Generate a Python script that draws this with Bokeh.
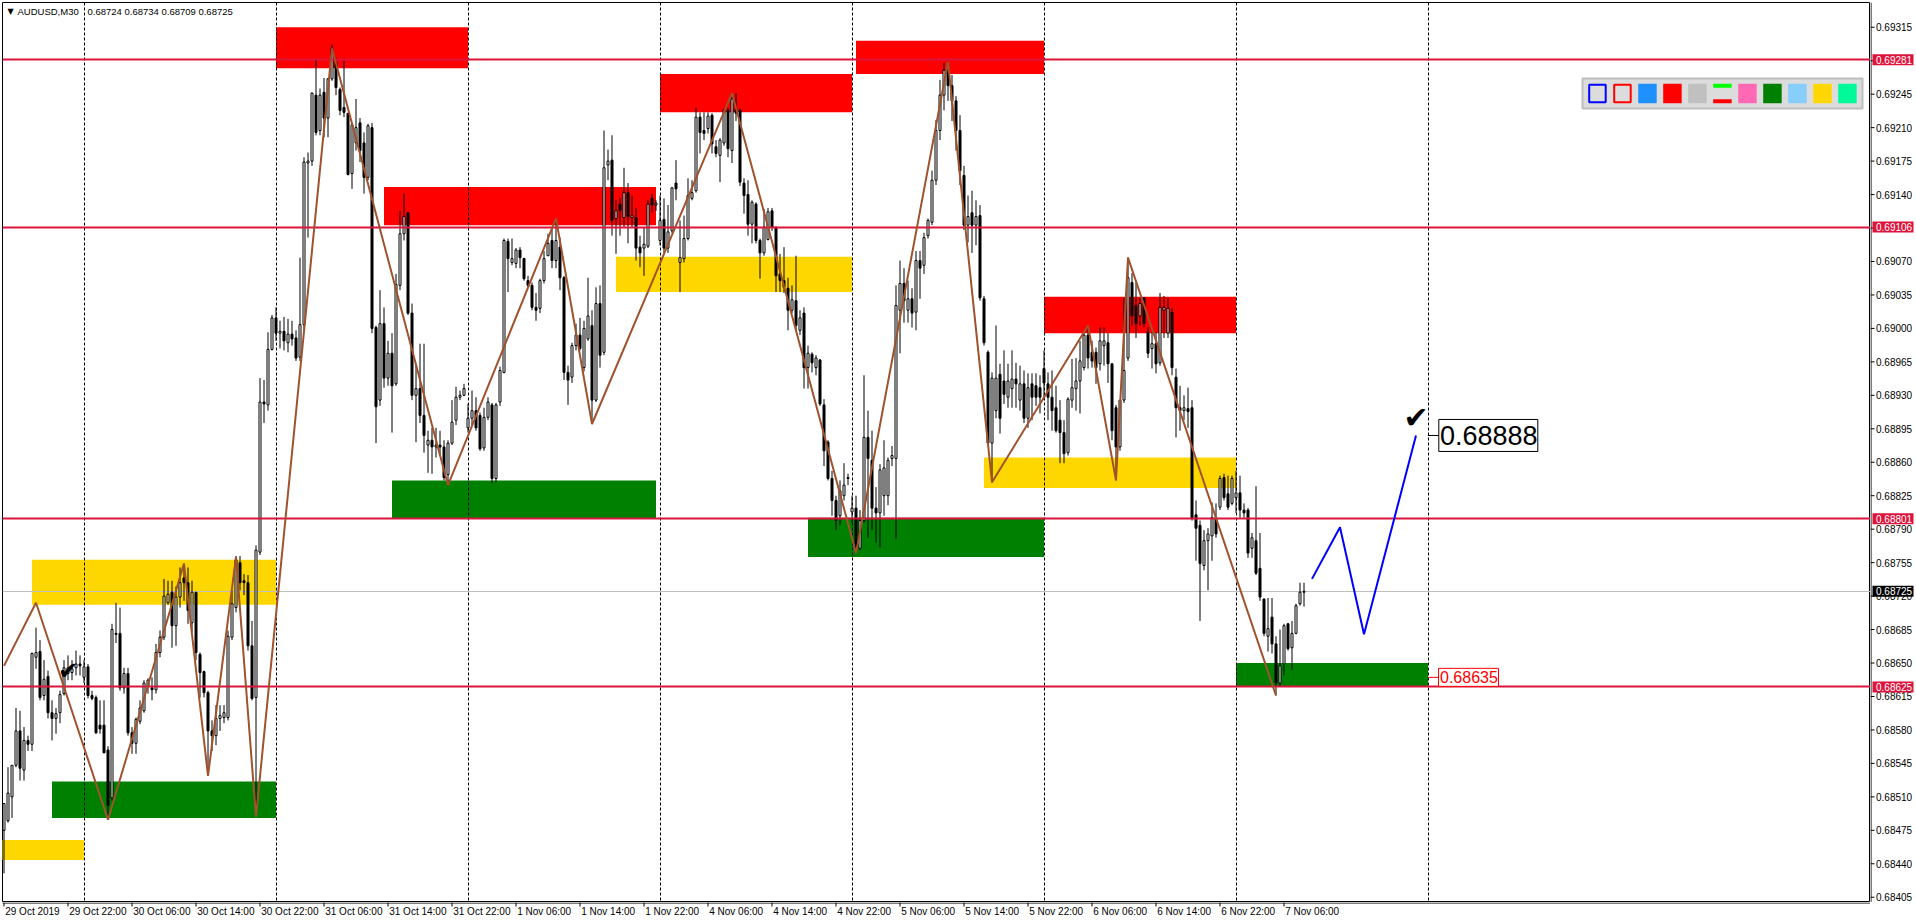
from bokeh.plotting import figure
from bokeh.models import Range1d, Label, ColumnDataSource, Spacer
from bokeh.layouts import row, column
from bokeh.core.properties import value
from bokeh.embed import file_html
from bokeh.resources import INLINE

# ---------------- data (AUDUSD M30, quotes in 1e-5 units) ----------------
symbol = "AUDUSD,M30"
last_ohlc = "0.68724 0.68734 0.68709 0.68725"

opens = [
68475,68485,68510,68543,68579,68538,68569,68565,68656,68662,
68616,68636,68598,68592,68598,68618,68639,68640,68645,68649,
68635,68646,68616,68614,68585,68585,68559,68509,68681,68681,
68624,68639,68577,68566,68589,68600,68626,68624,68622,68661,
68677,68713,68724,68689,68719,68739,68734,68692,68724,68659,
68641,68619,68579,68574,68592,68593,68593,68677,68708,68755,
68736,68734,68668,68614,68766,68923,68920,68978,69011,68995,
68997,68985,68994,68990,68970,69004,69173,69175,69244,69207,
69247,69220,69261,69278,69250,69231,69225,69162,69194,69215,
69194,69158,69210,69001,68925,69005,68948,68974,68942,69045,
69099,69121,69016,68930,68937,68909,68878,68883,68876,68878,
68876,68847,68880,68904,68928,68930,68896,68906,68914,68909,
68875,68907,68920,68843,68923,68954,69091,69069,69068,69082,
69073,69050,69045,69022,69021,69050,69076,69092,69071,69085,
69053,68954,68949,68982,68993,68959,68989,69003,68925,69026,
68975,69171,69176,69115,69130,69116,69142,69116,69116,69085,
69084,69086,69136,69129,69092,69114,69084,69102,69152,69069,
69073,69094,69136,69144,69221,69207,69209,69223,69190,69181,
69194,69228,69186,69230,69228,69152,69140,69109,69130,69092,
69079,69093,69123,69106,69057,69050,69042,69019,69029,68998,
69016,68959,68973,68959,68967,68920,68881,68843,68820,68804,
68825,68843,68808,68812,68770,68799,68886,68862,68812,68807,
68825,68825,68864,68864,69019,69047,69019,69031,69017,69071,
69066,69097,69111,69155,69207,69244,69268,69254,69238,69207,
69160,69108,69121,69108,69118,69031,68975,68880,68914,68952,
68945,68928,68937,68947,68925,68942,68906,68942,68940,68938,
68958,68942,68928,68917,68904,68891,68870,68925,68937,68945,
68959,68993,68975,68975,68963,68982,68985,68963,68917,68876,
68925,68969,69048,69024,69013,69032,68996,68979,68984,68964,
69019,68995,69017,68949,68917,68914,68916,68917,68805,68794,
68752,68778,68783,68802,68813,68844,68827,68817,68823,68828,
68810,68810,68770,68778,68749,68717,68678,68698,68670,68629,
68649,68691,68666,68681,68712,68724]

highs = [
68503,68541,68543,68603,68600,68583,68574,68661,68687,68674,
68653,68642,68611,68603,68621,68653,68658,68653,68663,68658,
68653,68649,68621,68616,68611,68611,68563,68691,68713,68708,
68645,68645,68583,68593,68611,68632,68634,68635,68670,68684,
68738,68736,68736,68730,68750,68754,68750,68736,68724,68661,
68642,68621,68590,68606,68606,68606,68684,68726,68762,68762,
68743,68742,68694,68773,68948,68946,68996,69014,69022,69008,
69012,69010,69008,68998,69074,69179,69184,69247,69282,69251,
69262,69262,69297,69283,69252,69280,69225,69215,69240,69220,
69205,69214,69215,69003,69040,69022,68987,68995,69057,69123,
69141,69121,69026,68963,68984,68984,68893,68896,68896,68893,
68883,68883,68925,68939,68935,68942,68921,68935,68928,68912,
68917,68928,68922,68922,68960,69094,69094,69094,69084,69085,
69074,69055,69048,69037,69052,69081,69099,69105,69115,69095,
69055,68961,68985,69005,69011,69008,69053,69019,69043,69045,
69207,69187,69202,69134,69137,69168,69152,69139,69126,69097,
69106,69134,69141,69134,69139,69136,69129,69148,69176,69113,
69118,69157,69155,69231,69226,69226,69226,69225,69197,69199,
69230,69231,69246,69246,69230,69157,69155,69134,69132,69094,
69125,69126,69126,69106,69078,69085,69053,69045,69076,69019,
69022,68982,68975,68972,68968,68926,68883,68851,68825,68841,
68859,68848,68825,68825,68810,68951,68914,68893,68834,68858,
68883,68865,68877,69045,69071,69063,69050,69042,69081,69081,
69100,69115,69165,69218,69260,69278,69279,69265,69243,69223,
69170,69139,69144,69134,69129,69034,68977,68954,69003,68963,
68977,68963,68977,68964,68961,68956,68953,68953,68953,68951,
68977,68954,68956,68940,68925,68904,68928,68968,68969,68987,
68995,69003,68987,68980,69001,69001,68995,68963,68920,68925,
69032,69074,69058,69048,69032,69032,69001,68996,68996,69037,
69034,69032,69022,68958,68940,68930,68938,68925,68820,68799,
68789,68791,68818,68817,68846,68848,68846,68846,68851,68846,
68817,68812,68786,68835,68786,68717,68718,68718,68678,68685,
68691,68692,68694,68712,68734,68734]

lows = [
68430,68483,68488,68541,68527,68527,68558,68558,68644,68611,
68611,68592,68569,68576,68587,68616,68632,68632,68637,68637,
68629,68613,68611,68576,68576,68556,68488,68506,68671,68621,
68618,68574,68555,68555,68586,68598,68618,68611,68618,68656,
68674,68711,68666,68668,68708,68715,68691,68682,68653,68614,
68614,68533,68558,68564,68579,68587,68590,68674,68703,68726,
68721,68663,68611,68489,68763,68901,68914,68977,68987,68979,
68977,68975,68982,68966,68966,68998,69095,69170,69202,69202,
69200,69200,69259,69244,69223,69221,69160,69146,69186,69174,
69141,69155,68995,68880,68919,68938,68940,68891,68940,69040,
69092,69014,68925,68881,68901,68870,68849,68848,68865,68867,
68841,68836,68878,68899,68925,68930,68891,68899,68893,68872,
68872,68904,68838,68839,68919,68953,69038,69066,69063,69063,
69050,69042,69019,69008,69016,69047,69076,69063,69063,69040,
68946,68920,68943,68977,68977,68955,68987,68901,68923,68959,
68972,69155,69097,69078,69097,69105,69089,69105,69071,69064,
69055,69084,69121,69123,69087,69079,69079,69100,69134,69038,
69069,69092,69134,69142,69183,69197,69204,69183,69179,69153,
69191,69179,69173,69217,69149,69120,69097,69089,69089,69052,
69076,69092,69102,69038,69038,69037,68998,69016,68998,68993,
68937,68937,68954,68951,68919,68856,68841,68804,68789,68794,
68820,68836,68797,68765,68768,68797,68781,68789,68776,68771,
68804,68815,68856,68780,68974,69006,69006,69001,68998,69031,
69057,69094,69108,69150,69197,69228,69238,69217,69186,69150,
69103,69090,69079,69087,69029,68982,68878,68839,68906,68890,
68921,68917,68917,68917,68914,68901,68896,68904,68919,68911,
68925,68904,68893,68891,68859,68859,68867,68917,68914,68911,
68956,68958,68959,68942,68956,68961,68943,68883,68841,68872,
68922,68966,69003,68990,69003,69001,68969,68958,68953,68961,
68990,68990,68951,68886,68893,68904,68896,68799,68757,68694,
68747,68726,68757,68781,68810,68820,68810,68815,68807,68802,
68802,68760,68760,68742,68715,68678,68662,68660,68616,68626,
68637,68663,68643,68680,68710,68709]

closes = [
68503,68514,68543,68579,68540,68569,68565,68660,68661,68614,
68633,68598,68592,68597,68617,68645,68645,68644,68649,68647,
68646,68616,68613,68577,68581,68556,68501,68685,68680,68624,
68639,68577,68566,68591,68603,68629,68632,68622,68661,68677,
68720,68722,68689,68719,68734,68734,68705,68724,68661,68640,
68619,68579,68574,68592,68595,68598,68678,68712,68758,68734,
68734,68668,68613,68768,68923,68921,68978,69011,68995,68997,
68987,68994,68989,68969,69004,69174,69175,69246,69205,69244,
69220,69261,69293,69252,69228,69226,69161,69213,69210,69186,
69158,69212,69000,68918,69005,68948,68974,68940,69046,69099,
69117,69016,68930,68937,68909,68888,68883,68876,68878,68876,
68844,68880,68902,68928,68930,68937,68906,68914,68896,68874,
68907,68923,68843,68920,68956,69092,69073,69073,69082,69074,
69052,69045,69022,69019,69050,69073,69089,69071,69092,69053,
68954,68946,68982,68993,68979,69000,69013,68925,69026,68972,
69168,69175,69113,69123,69123,69142,69117,69118,69084,69079,
69088,69130,69129,69131,69113,69084,69101,69147,69146,69074,
69094,69139,69142,69221,69205,69204,69222,69193,69183,69197,
69228,69188,69240,69225,69153,69139,69109,69132,69092,69079,
69106,69122,69106,69055,69050,69043,69019,69030,69003,69011,
68959,68974,68964,68969,68921,68872,68843,68820,68799,68830,
68836,68844,68812,68768,68799,68886,68864,68812,68807,68852,
68854,68862,68867,69024,69047,69029,69031,69016,69071,69063,
69095,69113,69155,69207,69244,69270,69254,69238,69207,69165,
69108,69117,69108,69117,69032,68985,68880,68948,68948,68906,
68931,68945,68947,68942,68942,68906,68938,68928,68928,68928,
68943,68928,68914,68893,68891,68869,68926,68938,68945,68966,
68993,68969,68966,68959,68987,68987,68963,68893,68876,68925,
68956,69053,69013,69005,69026,69005,68974,68984,68963,69022,
69022,69021,68959,68917,68914,68917,68913,68801,68791,68754,
68778,68785,68802,68785,68843,68823,68813,68843,68828,68810,
68807,68765,68781,68744,68719,68681,68686,68670,68629,68647,
68689,68665,68681,68710,68724,68725]

time_tick_idx = [0, 16, 32, 48, 64, 80, 96, 112, 128, 144, 160,
                 176, 192, 208, 224, 240, 256, 272, 288, 304, 320]
time_tick_labels = ["29 Oct 2019", "29 Oct 22:00", "30 Oct 06:00", "30 Oct 14:00",
                    "30 Oct 22:00", "31 Oct 06:00", "31 Oct 14:00", "31 Oct 22:00",
                    "1 Nov 06:00", "1 Nov 14:00", "1 Nov 22:00", "4 Nov 06:00",
                    "4 Nov 14:00", "4 Nov 22:00", "5 Nov 06:00", "5 Nov 14:00",
                    "5 Nov 22:00", "6 Nov 06:00", "6 Nov 14:00", "6 Nov 22:00",
                    "7 Nov 06:00"]
day_sep_idx = [20, 68, 116, 164, 212, 260, 308, 356]

price_ticks = [0.68405, 0.68440, 0.68475, 0.68510, 0.68545, 0.68580, 0.68615,
               0.68650, 0.68685, 0.68720, 0.68755, 0.68790, 0.68825, 0.68860,
               0.68895, 0.68930, 0.68965, 0.69000, 0.69035, 0.69070, 0.69105,
               0.69140, 0.69175, 0.69210, 0.69245, 0.69280, 0.69315]

level_prices = [0.69281, 0.69106, 0.68801, 0.68625]
bid_price = 0.68725

zz_idx = [0, 8, 26, 45, 51, 58, 63, 82, 111, 138, 147, 182, 213, 236, 247, 271, 278, 281, 318]
zz_price = [0.68647, 0.68713, 0.68486, 0.68754, 0.68532, 0.68761, 0.68489, 0.69293,
            0.68836, 0.69115, 0.68900, 0.69246, 0.68765, 0.69279, 0.68839, 0.69003,
            0.68841, 0.69074, 0.68616]

fc_idx = [327, 334, 340, 353]
fc_price = [0.68738, 0.68792, 0.68680, 0.68888]

zone_left = [68, 95, 164, 213, 260, 7, -2, 153, 245, 12, 97, 201, 308]
zone_right = [116, 163, 212, 260, 308, 68, 20, 212, 308, 68, 163, 260, 356]
zone_bottom = [0.69272, 0.69108, 0.69226, 0.69266, 0.68995, 0.68711, 0.68444, 0.69038,
               0.68833, 0.68488, 0.68801, 0.68761, 0.68625]
zone_top = [0.69315, 0.69148, 0.69266, 0.69301, 0.69033, 0.68758, 0.68465, 0.69075,
            0.68865, 0.68526, 0.68841, 0.68802, 0.68650]
zone_color = ["#FF0000"] * 5 + ["#FFD700"] * 4 + ["#008000"] * 4

target_price = 0.68888
stop_price = 0.68635
check_idx = [16, 353]
check_price = [0.68642, 0.68907]

palette_colors = ["#0000FF", "#FF0000", "#1E90FF", "#FF0000", "#C0C0C0", "#00FF00",
                  "#FF69B4", "#008000", "#87CEFA", "#FFD700", "#00FA9A"]

# ---------------- layout ----------------
TOTAL_W = 1916
FRAME_L, FRAME_T = 2, 2
FRAME_W, FRAME_H = 1868, 900
AXIS_W = TOTAL_W - FRAME_L - FRAME_W      # 46
BOTTOM_H = 18
BAR_PX = 4.0
x_start = -0.375
x_end = x_start + FRAME_W / BAR_PX
y_top = 0.693409
y_bot = 0.683995

xr = Range1d(x_start, x_end)
yr = Range1d(y_bot, y_top)


def px_x(px):
    return x_start + (px - FRAME_L) / BAR_PX


def px_y(py):
    return y_top - (py - FRAME_T) * (y_top - y_bot) / FRAME_H


FONT = "Liberation Sans"

p = figure(width=FRAME_L + FRAME_W, height=FRAME_T + FRAME_H, output_backend="svg",
           toolbar_location=None, x_range=xr, y_range=yr,
           x_axis_location=None, y_axis_location=None,
           min_border_left=FRAME_L, min_border_top=FRAME_T,
           min_border_right=0, min_border_bottom=0)
p.grid.visible = False
p.outline_line_color = "black"
p.outline_line_width = 1
p.background_fill_color = "white"
p.border_fill_color = "white"

# zones
p.quad(left=zone_left, right=zone_right, top=zone_top, bottom=zone_bottom,
       fill_color=zone_color, line_color=None)

# day separators
p.vspan(x=day_sep_idx, line_color="black", line_width=1, line_dash="3 2")

# bid line
p.hspan(y=[bid_price], line_color="#C0C0C0", line_width=1)

# candles
n = len(opens)
assert len(highs) == n and len(lows) == n and len(closes) == n
idx = list(range(n))
o = [v / 1e5 for v in opens]
h = [v / 1e5 for v in highs]
l = [v / 1e5 for v in lows]
c = [v / 1e5 for v in closes]
src = ColumnDataSource(dict(
    x=idx, h=h, l=l,
    top=[max(a, b) for a, b in zip(o, c)],
    bottom=[min(a, b) for a, b in zip(o, c)],
    fill=["white" if cc >= oo else "black" for oo, cc in zip(o, c)],
))
p.segment(x0="x", y0="h", x1="x", y1="l", source=src, line_color="black", line_width=1)
p.vbar(x="x", width=0.5, top="top", bottom="bottom", source=src,
       fill_color="fill", line_color="black", line_width=1)

# key levels
p.hspan(y=level_prices, line_color="#DC143C", line_width=2)

# zigzag
p.line(zz_idx, zz_price, line_color="#A0522D", line_width=2)

# forecast path
p.line(fc_idx, fc_price, line_color="#0000FF", line_width=2)

# price label objects (anchored at the 8 Nov separator)
anchor = day_sep_idx[-1]
p.segment(x0=[anchor, anchor], y0=[target_price, stop_price],
          x1=[px_x(1438.5), px_x(1438.5)], y1=[target_price, stop_price],
          line_color=["black", "#FF0000"], line_width=1)
p.rect(x=[px_x(1487.8)], y=[target_price], width=99, height=32,
       width_units="screen", height_units="screen",
       fill_color="white", line_color="black", line_width=1)
p.text(x=[px_x(1439.5)], y=[target_price], text=["0.68888"],
       text_font=value(FONT), text_font_size="27px", text_color="black",
       text_align="left", text_baseline="middle")
p.rect(x=[px_x(1468)], y=[stop_price], width=60, height=18,
       width_units="screen", height_units="screen",
       fill_color="white", line_color="#FF0000", line_width=1)
p.text(x=[px_x(1439.5)], y=[stop_price], text=["0.68635"],
       text_font=value(FONT), text_font_size="16px", text_color="#FF0000",
       text_align="left", text_baseline="middle")

# check marks
p.text(x=check_idx[:1], y=check_price[:1], text=["\u2714"],
       text_font=value("DejaVu Sans"), text_font_size="24px", text_color="black",
       text_align="center", text_baseline="middle")
p.text(x=check_idx[1:], y=check_price[1:], text=["\u2714"],
       text_font=value("DejaVu Sans"), text_font_size="30px", text_color="black",
       text_align="center", text_baseline="middle")

# palette panel (top right)
p.quad(left=[px_x(1582)], right=[px_x(1862)], top=[px_y(78)], bottom=[px_y(108)],
       fill_color="#DCDCDC", line_color="#BEBEBE", line_width=2)
for k, col in enumerate(palette_colors):
    left_px = 1587.7 + 25 * k
    if k in (0, 1):
        p.quad(left=[px_x(left_px + 1)], right=[px_x(left_px + 17.5)],
               top=[px_y(84.3)], bottom=[px_y(101.7)],
               fill_color=None, line_color=col, line_width=2)
    elif k == 5:
        p.quad(left=[px_x(left_px)], right=[px_x(left_px + 18.5)],
               top=[px_y(83.3)], bottom=[px_y(87.3)], fill_color=col, line_color=None)
        p.quad(left=[px_x(left_px)], right=[px_x(left_px + 18.5)],
               top=[px_y(98.7)], bottom=[px_y(102.7)], fill_color="#FF0000", line_color=None)
    else:
        p.quad(left=[px_x(left_px)], right=[px_x(left_px + 18.5)],
               top=[px_y(83.3)], bottom=[px_y(102.7)], fill_color=col, line_color=None)

# header
p.add_layout(Label(x=px_x(10), y=px_y(10.7), text="\u25BC", text_font="DejaVu Sans",
                   text_font_size="8px", text_color="black",
                   text_align="center", text_baseline="middle"))
p.add_layout(Label(x=px_x(17), y=px_y(10.7), text=symbol, text_font=FONT,
                   text_font_size="9.5px", text_color="black",
                   text_align="left", text_baseline="middle"))
p.add_layout(Label(x=px_x(87), y=px_y(10.7), text=last_ohlc, text_font=FONT,
                   text_font_size="9.5px", text_color="black",
                   text_align="left", text_baseline="middle"))

# ---------------- price scale (right) ----------------
pa = figure(width=AXIS_W, height=FRAME_T + FRAME_H, output_backend="svg",
            toolbar_location=None, x_range=Range1d(0, AXIS_W), y_range=yr,
            x_axis_location=None, y_axis_location=None,
            min_border_left=0, min_border_top=FRAME_T,
            min_border_right=0, min_border_bottom=0)
pa.grid.visible = False
pa.outline_line_color = None
pa.background_fill_color = "white"
pa.border_fill_color = "white"
pa.segment(x0=[0.5], y0=[y_bot], x1=[0.5], y1=[y_top], line_color="black", line_width=1)
pa.segment(x0=[0] * len(price_ticks), y0=price_ticks, x1=[4] * len(price_ticks),
           y1=price_ticks, line_color="black", line_width=1)
pa.text(x=[5.5] * len(price_ticks), y=price_ticks, text=["%.5f" % t for t in price_ticks],
        text_font=value(FONT), text_font_size="10px", text_color="black",
        text_align="left", text_baseline="middle")
tag_prices = level_prices + [bid_price]
tag_colors = ["#DC143C"] * len(level_prices) + ["black"]
pa.rect(x=[22.5] * len(tag_prices), y=tag_prices, width=41, height=11,
        height_units="screen", fill_color=tag_colors, line_color=None)
pa.text(x=[5.5] * len(tag_prices), y=tag_prices, text=["%.5f" % t for t in tag_prices],
        text_font=value(FONT), text_font_size="10px", text_color="white",
        text_align="left", text_baseline="middle")

# ---------------- time scale (bottom) ----------------
pb = figure(width=FRAME_L + FRAME_W, height=BOTTOM_H, output_backend="svg",
            toolbar_location=None, x_range=xr, y_range=Range1d(0, BOTTOM_H),
            x_axis_location=None, y_axis_location=None,
            min_border_left=FRAME_L, min_border_top=0,
            min_border_right=0, min_border_bottom=0)
pb.grid.visible = False
pb.outline_line_color = None
pb.background_fill_color = "white"
pb.border_fill_color = "white"
pb.segment(x0=[x_start], y0=[BOTTOM_H - 0.5], x1=[x_end], y1=[BOTTOM_H - 0.5],
           line_color="black", line_width=1)
pb.segment(x0=time_tick_idx, y0=[BOTTOM_H] * len(time_tick_idx),
           x1=time_tick_idx, y1=[BOTTOM_H - 4] * len(time_tick_idx),
           line_color="black", line_width=1)
pb.text(x=[max(t + 0.3, x_start + 0.3) for t in time_tick_idx],
        y=[BOTTOM_H - 9] * len(time_tick_idx), text=time_tick_labels,
        text_font=value(FONT), text_font_size="10px", text_color="black",
        text_align="left", text_baseline="middle")

layout = column(row(p, pa), row(pb, Spacer(width=AXIS_W, height=BOTTOM_H)))

open("out.html", "w").write(file_html(layout, INLINE))
